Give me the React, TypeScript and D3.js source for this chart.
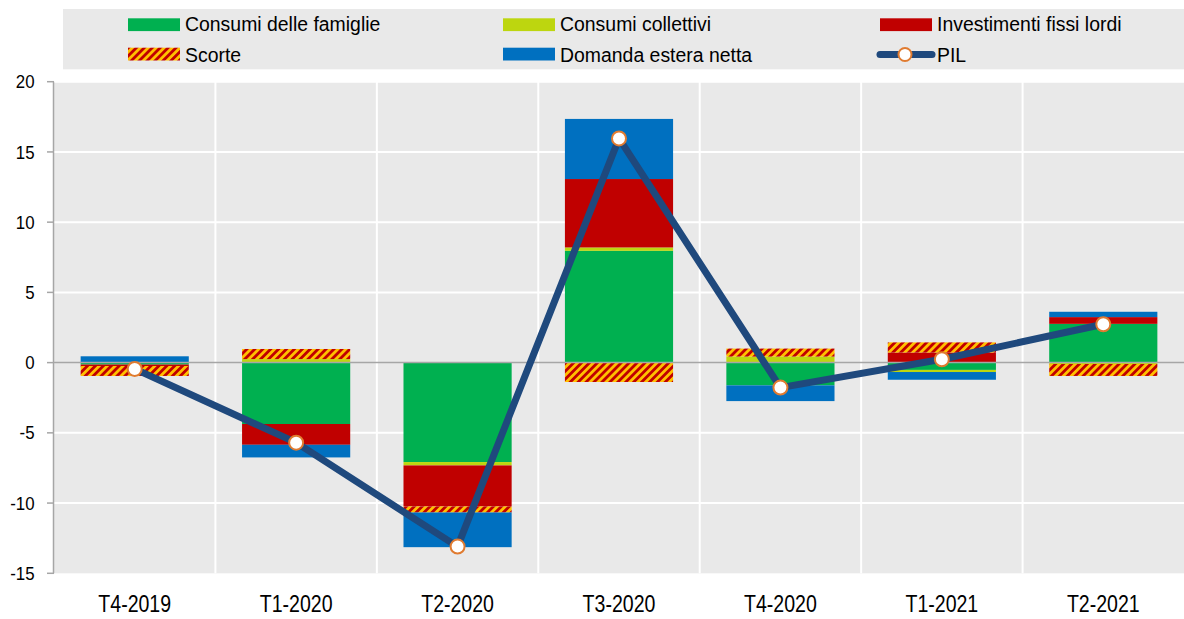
import React, { useEffect } from "react";
import * as d3 from "d3";

const categories = ["T4-2019", "T1-2020", "T2-2020", "T3-2020", "T4-2020", "T1-2021", "T2-2021"];
const famiglie = [-0.14, -4.37, -7.08, 7.96, -1.62, -0.52, 2.76];
const collettivi = [0.0, 0.25, -0.24, 0.24, 0.43, -0.15, -0.1];
const investimenti = [-0.1, -1.48, -2.92, 4.87, 0.0, 0.72, 0.48];
const scorte = [-0.71, 0.72, -0.43, -1.38, 0.57, 0.72, -0.85];
const estera = [0.45, -0.9, -2.47, 4.28, -1.12, -0.55, 0.38];
const pil = [-0.45, -5.7, -13.1, 15.96, -1.78, 0.24, 2.73];
const yTicks = [-15, -10, -5, 0, 5, 10, 15, 20];

const seriesKeys = ["famiglie", "collettivi", "investimenti", "scorte", "estera"];
const seriesValues: Record<string, number[]> = { famiglie, collettivi, investimenti, scorte, estera };
const seriesLabels: Record<string, string> = {
  famiglie: "Consumi delle famiglie",
  collettivi: "Consumi collettivi",
  investimenti: "Investimenti fissi lordi",
  scorte: "Scorte",
  estera: "Domanda estera netta",
};
const colors: Record<string, string> = {
  famiglie: "#00B050",
  collettivi: "#BDD60F",
  investimenti: "#C00000",
  scorte: "url(#hatch)",
  estera: "#0070C0",
};

const W = 1184;
const H = 619;
const plotLeft = 54;
const plotRight = 1184;
const plotTop = 81.7;
const plotBottom = 573.3;
const FONT = "'Liberation Sans', Arial, sans-serif";

const T = ({ x, y, children, size, sx, anchor }: any) => (
  <text
    transform={`translate(${x},${y}) scale(${sx},1)`}
    fontFamily={FONT}
    fontSize={size}
    fill="#000"
    textAnchor={anchor || "start"}
  >
    {children}
  </text>
);

export default function App() {
  useEffect(() => {
    document.body.style.margin = "0";
  }, []);

  const x = d3.scaleBand<string>().domain(categories).range([plotLeft, plotRight]).paddingInner(0).paddingOuter(0);
  const bw = x.bandwidth();
  const barW = bw * 0.67;
  const y = d3.scaleLinear().domain([-15, 20]).range([plotBottom, plotTop]);

  const table = categories.map((c, i) => {
    const row: any = { cat: c };
    seriesKeys.forEach((k) => (row[k] = seriesValues[k][i]));
    return row;
  });
  const stacked = d3.stack<any>().keys(seriesKeys).offset(d3.stackOffsetDiverging)(table);

  const line = d3
    .line<number>()
    .x((_, i) => (x(categories[i]) as number) + bw / 2)
    .y((d) => y(d));

  const legendItems = [
    { key: "famiglie", sx: 128, row: 0 },
    { key: "collettivi", sx: 503, row: 0 },
    { key: "investimenti", sx: 880, row: 0 },
    { key: "scorte", sx: 128, row: 1 },
    { key: "estera", sx: 503, row: 1 },
  ];
  const rowSwatchY = [18.3, 47.7];
  const rowBase = [31, 62];

  return (
    <div style={{ position: "absolute", left: 0, top: 0 }}>
      <svg width={W} height={H} style={{ display: "block", background: "#fff" }}>
        <defs>
          <pattern id="hatch" patternUnits="userSpaceOnUse" width="5.6" height="5.6" patternTransform="rotate(45)">
            <rect width="5.6" height="5.6" fill="#FFC000" />
            <rect width="2.8" height="5.6" fill="#C00000" />
          </pattern>
        </defs>

        {/* legend */}
        <rect x={63} y={9} width={W - 63} height={60.3} fill="#E9E9E9" />
        {legendItems.map((it) => (
          <g key={it.key}>
            <rect x={it.sx} y={rowSwatchY[it.row]} width={52} height={12.8} fill={colors[it.key]} />
            <T x={it.sx + 57} y={rowBase[it.row]} size={21} sx={0.925}>
              {seriesLabels[it.key]}
            </T>
          </g>
        ))}
        <line x1={880} x2={932} y1={54.5} y2={54.5} stroke="#1F497D" strokeWidth={7} strokeLinecap="round" />
        <circle cx={905} cy={54.5} r={6.5} fill="#fff" stroke="#E07B30" strokeWidth={2} />
        <T x={937} y={62} size={21} sx={0.925}>
          PIL
        </T>

        {/* plot background */}
        <rect x={plotLeft} y={plotTop} width={plotRight - plotLeft} height={plotBottom - plotTop} fill="#E9E9E9" />
        {yTicks
          .filter((t) => t !== 0 && t !== -15)
          .map((t) => (
            <line key={t} x1={plotLeft} x2={plotRight} y1={y(t)} y2={y(t)} stroke="#fff" strokeWidth={2} />
          ))}
        {categories.slice(1).map((c) => (
          <line key={c} x1={x(c)} x2={x(c)} y1={plotTop} y2={plotBottom} stroke="#fff" strokeWidth={2} />
        ))}

        {/* bars */}
        {stacked.map((s) => (
          <g key={s.key} fill={colors[s.key]}>
            {s.map((d, i) => {
              const y0 = y(d[0]);
              const y1 = y(d[1]);
              const h = Math.abs(y0 - y1);
              if (h < 0.01) return null;
              return (
                <rect
                  key={i}
                  x={(x(categories[i]) as number) + (bw - barW) / 2}
                  y={Math.min(y0, y1)}
                  width={barW}
                  height={h}
                />
              );
            })}
          </g>
        ))}

        {/* zero line */}
        <line x1={plotLeft} x2={plotRight} y1={y(0)} y2={y(0)} stroke="#A6A6A6" strokeWidth={1.5} />

        {/* y axis */}
        <line x1={plotLeft - 0.5} x2={plotLeft - 0.5} y1={plotTop} y2={plotBottom} stroke="#A6A6A6" strokeWidth={1.5} />
        {yTicks.map((t) => (
          <g key={t}>
            <line x1={plotLeft - 7} x2={plotLeft} y1={y(t)} y2={y(t)} stroke="#A6A6A6" strokeWidth={1.5} />
            <T x={34.5} y={y(t) + 6.6} size={18.5} sx={0.91} anchor="end">
              {t}
            </T>
          </g>
        ))}

        {/* x labels */}
        {categories.map((c) => (
          <T key={c} x={(x(c) as number) + bw / 2} y={612} size={23} sx={0.85} anchor="middle">
            {c}
          </T>
        ))}

        {/* PIL line */}
        <path d={line(pil) as string} fill="none" stroke="#1F497D" strokeWidth={7} strokeLinejoin="round" />
        {pil.map((v, i) => (
          <circle
            key={i}
            cx={(x(categories[i]) as number) + bw / 2}
            cy={y(v)}
            r={7}
            fill="#fff"
            stroke="#E07B30"
            strokeWidth={2}
          />
        ))}
      </svg>
    </div>
  );
}
